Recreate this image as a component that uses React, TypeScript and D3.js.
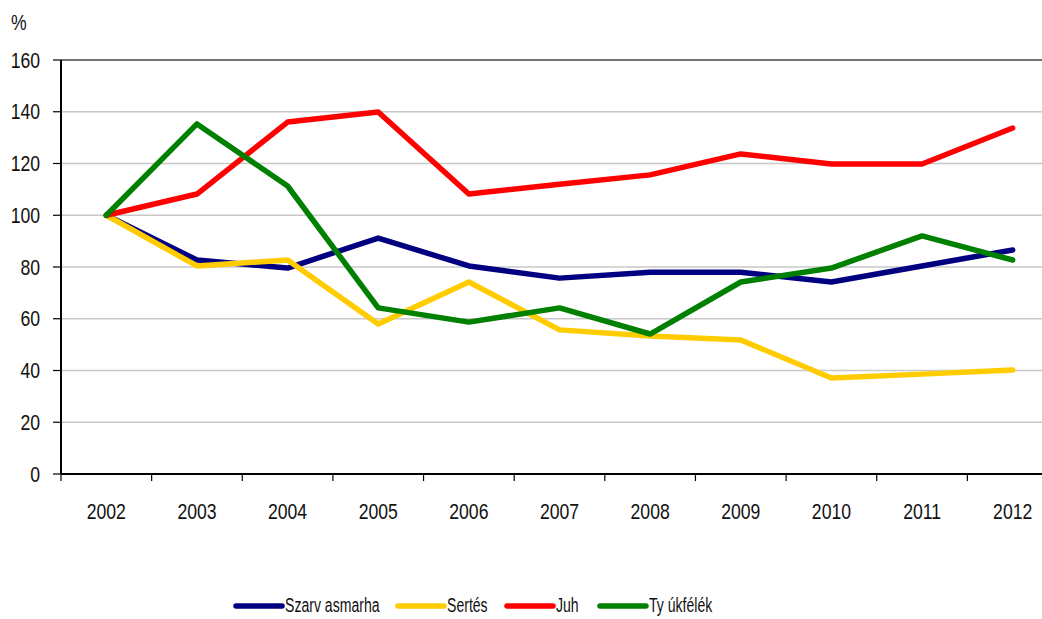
import * as d3 from "d3";

const years = ["2002", "2003", "2004", "2005", "2006", "2007", "2008", "2009", "2010", "2011", "2012"];
const szarvasmarha = [100, 82.7, 79.6, 91.2, 80.4, 75.7, 78, 78, 74.2, 80.4, 86.6];
const sertes = [100, 80.4, 82.7, 58, 74.2, 55.7, 53.3, 51.8, 37.1, 38.6, 40.2];
const juh = [100, 108.2, 136, 139.9, 108.2, 112, 115.6, 123.7, 119.8, 119.8, 133.7];
const tyukfelek = [100, 135.3, 111.3, 64.2, 58.7, 64.2, 54.1, 74.2, 79.6, 92, 82.7];
const yTicks = [0, 20, 40, 60, 80, 100, 120, 140, 160];

const series = [
  { name: "Szarv asmarha", values: szarvasmarha, color: "#000080" },
  { name: "Sertés", values: sertes, color: "#FFCC00" },
  { name: "Juh", values: juh, color: "#FF0000" },
  { name: "Ty úkfélék", values: tyukfelek, color: "#008000" },
];

const font = "'Liberation Sans', Arial, sans-serif";

// narrow text: the original uses a condensed Arial look
function NText(props: { x: number; y: number; size: number; sx?: number; anchor?: string; children: any }) {
  return (
    <text
      transform={`translate(${props.x},${props.y}) scale(${props.sx || 0.8},1)`}
      textAnchor={props.anchor || "start"}
      fontSize={props.size}
      fill="#111"
    >
      {props.children}
    </text>
  );
}

export default function App() {
  const width = 1042;
  const height = 619;
  const left = 61;
  const right = 1058;
  const top = 60;
  const bottom = 474;

  const x = d3.scaleBand().domain(years).range([left, right]);
  const y = d3.scaleLinear().domain([0, 160]).range([bottom, top]);
  const line = d3
    .line<number>()
    .x((_, i) => (x(years[i]) as number) + x.bandwidth() / 2)
    .y((d) => y(d));

  const legendPos = [236, 398, 507, 600];

  return (
    <svg
      width={width}
      height={height}
      style={{ position: "absolute", left: 0, top: 0, background: "#fff" }}
      fontFamily={font}
    >
      {yTicks.slice(0, -1).map((t) =>
        t === 0 ? null : (
          <line key={"g" + t} x1={left} x2={width} y1={y(t)} y2={y(t)} stroke="#c8c8c8" strokeWidth={1.5} />
        )
      )}
      <line x1={left} x2={width} y1={top} y2={top} stroke="#444" strokeWidth={1.5} />
      {yTicks.map((t) => (
        <g key={"y" + t}>
          <line x1={left - 8} x2={left} y1={y(t)} y2={y(t)} stroke="#000" strokeWidth={1.2} />
          <NText x={40} y={y(t) + 7.5} size={22} anchor="end">
            {t}
          </NText>
        </g>
      ))}
      <NText x={11} y={30} size={22}>%</NText>
      {series.map((s) => (
        <path
          key={s.name}
          d={line(s.values) as string}
          fill="none"
          stroke={s.color}
          strokeWidth={5.5}
          strokeLinejoin="round"
          strokeLinecap="round"
        />
      ))}
      <line x1={left} x2={left} y1={top} y2={bottom} stroke="#000" strokeWidth={2} />
      <line x1={left} x2={width} y1={bottom} y2={bottom} stroke="#000" strokeWidth={2} />
      {years.map((yr) => (
        <g key={yr}>
          <line x1={x(yr) as number} x2={x(yr) as number} y1={bottom} y2={bottom + 7} stroke="#000" strokeWidth={1.2} />
          <NText x={(x(yr) as number) + x.bandwidth() / 2} y={519} size={22} anchor="middle">
            {yr}
          </NText>
        </g>
      ))}
      {series.map((s, i) => (
        <g key={"l" + s.name}>
          <line
            x1={legendPos[i]}
            x2={legendPos[i] + 46}
            y1={606}
            y2={606}
            stroke={s.color}
            strokeWidth={5.5}
            strokeLinecap="round"
          />
          <NText x={legendPos[i] + 49} y={612} size={21} sx={0.67}>
            {s.name}
          </NText>
        </g>
      ))}
    </svg>
  );
}
